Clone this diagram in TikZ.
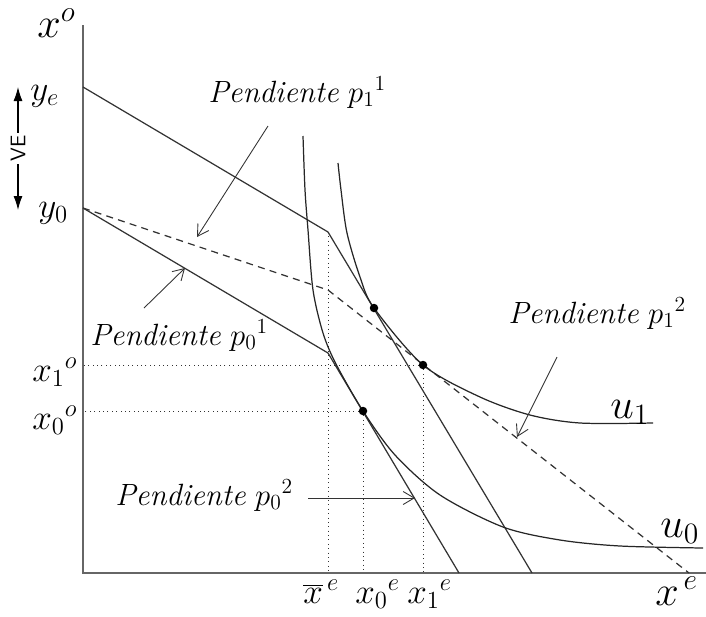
\RequirePackage{fix-cm}
\documentclass[tikz,border=0pt]{standalone}
\usepackage{fontspec}
\usepackage{tikz}
\usetikzlibrary{arrows.meta}
\tikzset{
  ax/.style={line width=1.1pt,black!60},
  bud/.style={line width=0.7pt,black!80},
  dsh/.style={line width=0.7pt,black!80,dash pattern=on 4pt off 3pt},
  gd/.style={dotted,line width=0.5pt,black!80},
  ic/.style={line width=0.7pt,black!85},
  pt/.style={circle,fill=black,inner sep=0pt,minimum size=1.7mm},
  ptr/.style={line width=0.5pt,black!80,-{Straight Barb[length=2.2mm,width=2.6mm]}},
  lab/.style={anchor=base west,inner sep=0pt,font=\fontsize{17.5}{20}\selectfont},
  tck/.style={anchor=base west,inner sep=0pt,font=\fontsize{20}{24}\selectfont},
  axl/.style={anchor=base west,inner sep=0pt,font=\fontsize{24}{28}\selectfont}
}
\newcommand{\pend}[2]{\textit{Pendiente} $p_{#1}{}^{#2}$}

\begin{document}
\begin{tikzpicture}[x=0.02cm,y=-0.02cm]
\useasboundingbox (0,0) rectangle (706,616);
% axes
\coordinate (O) at (83,573);
\coordinate (ytop) at (83,25);
\coordinate (xend) at (706,573);
\draw[ax] (ytop) -- (O) -- (xend);
% budget lines
\coordinate (Ye) at (83,87);
\coordinate (Yo) at (83,208);
\coordinate (Ke) at (328,232);
\coordinate (Kd) at (328,290);
\coordinate (Ko) at (328,353);
\coordinate (Be) at (532,573);
\coordinate (Bd) at (689,573);
\coordinate (Bo) at (459,573);
\draw[bud] (Ye) -- (Ke) -- (Be);
\draw[bud] (Yo) -- (Ko) -- (Bo);
\draw[dsh] (Yo) -- (Kd) -- (Bd);
% tangency points and guides
\coordinate (a0) at (363,411);
\coordinate (a1) at (374,308);
\coordinate (b1) at (423,365);
\draw[gd] (Ke) -- (Ke |- O);
\draw[gd] (a0) -- (a0 |- O);
\draw[gd] (b1) -- (b1 |- O);
\draw[gd] (a0) -- (a0 -| O);
\draw[gd] (b1) -- (b1 -| O);
% indifference curves
\draw[ic] plot[smooth] coordinates {(303,136) (305,190) (308,230) (313,290) (323,333) (336,364) (363,411) (395,455) (440,495) (503,527) (560,540) (620,546) (703,548)};
\draw[ic] plot[smooth] coordinates {(338,163) (341,190) (347,233) (360,277) (374,308) (423,365) (480,397) (530,415) (580,423) (653,423)};
\node[pt] (P0) at (a0) {};
\node[pt] (P1) at (a1) {};
\node[pt] (Q1) at (b1) {};
% VE
\coordinate (veT) at (18,87);
\coordinate (veB) at (18,210);
\draw[line width=0.6pt,{Latex[length=2.8mm,width=1.8mm]}-{Latex[length=2.8mm,width=1.8mm]}] (veB) -- (veT)
  node[midway,fill=white,rotate=90,inner sep=1.5pt,font=\fontsize{12}{14}\sffamily] (ve) {VE};
% axis labels
\node[axl] (xo) at (37,37) {$x^{o}$};
\node[axl] (xe) at (655,605) {$x^{\,e}$};
\node[tck] (ye) at (30,100) {$y_e$};
\node[tck] (yo) at (38,217) {$y_0$};
\node[tck] (x1o) at (32,381) {$x_1{}^{o}$};
\node[tck] (x0o) at (32,429) {$x_0{}^{o}$};
\node[tck] (xbe) at (303,603) {$\overline{x}^{\,e}$};
\node[tck] (x0e) at (355,603) {$x_0{}^{e}$};
\node[tck] (x1e) at (407,603) {$x_1{}^{e}$};
\node[axl] (u1) at (610,418) {$u_1$};
\node[axl] (u0) at (660,537) {$u_0$};
% slope labels
\node[lab] (s11) at (208,102) {\pend{1}{1}};
\node[lab] (s01) at (90,345) {\pend{0}{1}};
\node[lab] (s12) at (508,323) {\pend{1}{2}};
\node[lab] (s02) at (115,505) {\pend{0}{2}};
\coordinate (f11) at (268,126); \coordinate (t11) at (197,237);
\coordinate (f01) at (144,308); \coordinate (t01) at (185,268);
\coordinate (f12) at (557,357); \coordinate (t12) at (517,437);
\coordinate (f02) at (308,498); \coordinate (t02) at (415,498);
\draw[ptr] (f11) -- (t11);
\draw[ptr] (f01) -- (t01);
\draw[ptr] (f12) -- (t12);
\draw[ptr] (f02) -- (t02);
\end{tikzpicture}
\end{document}
